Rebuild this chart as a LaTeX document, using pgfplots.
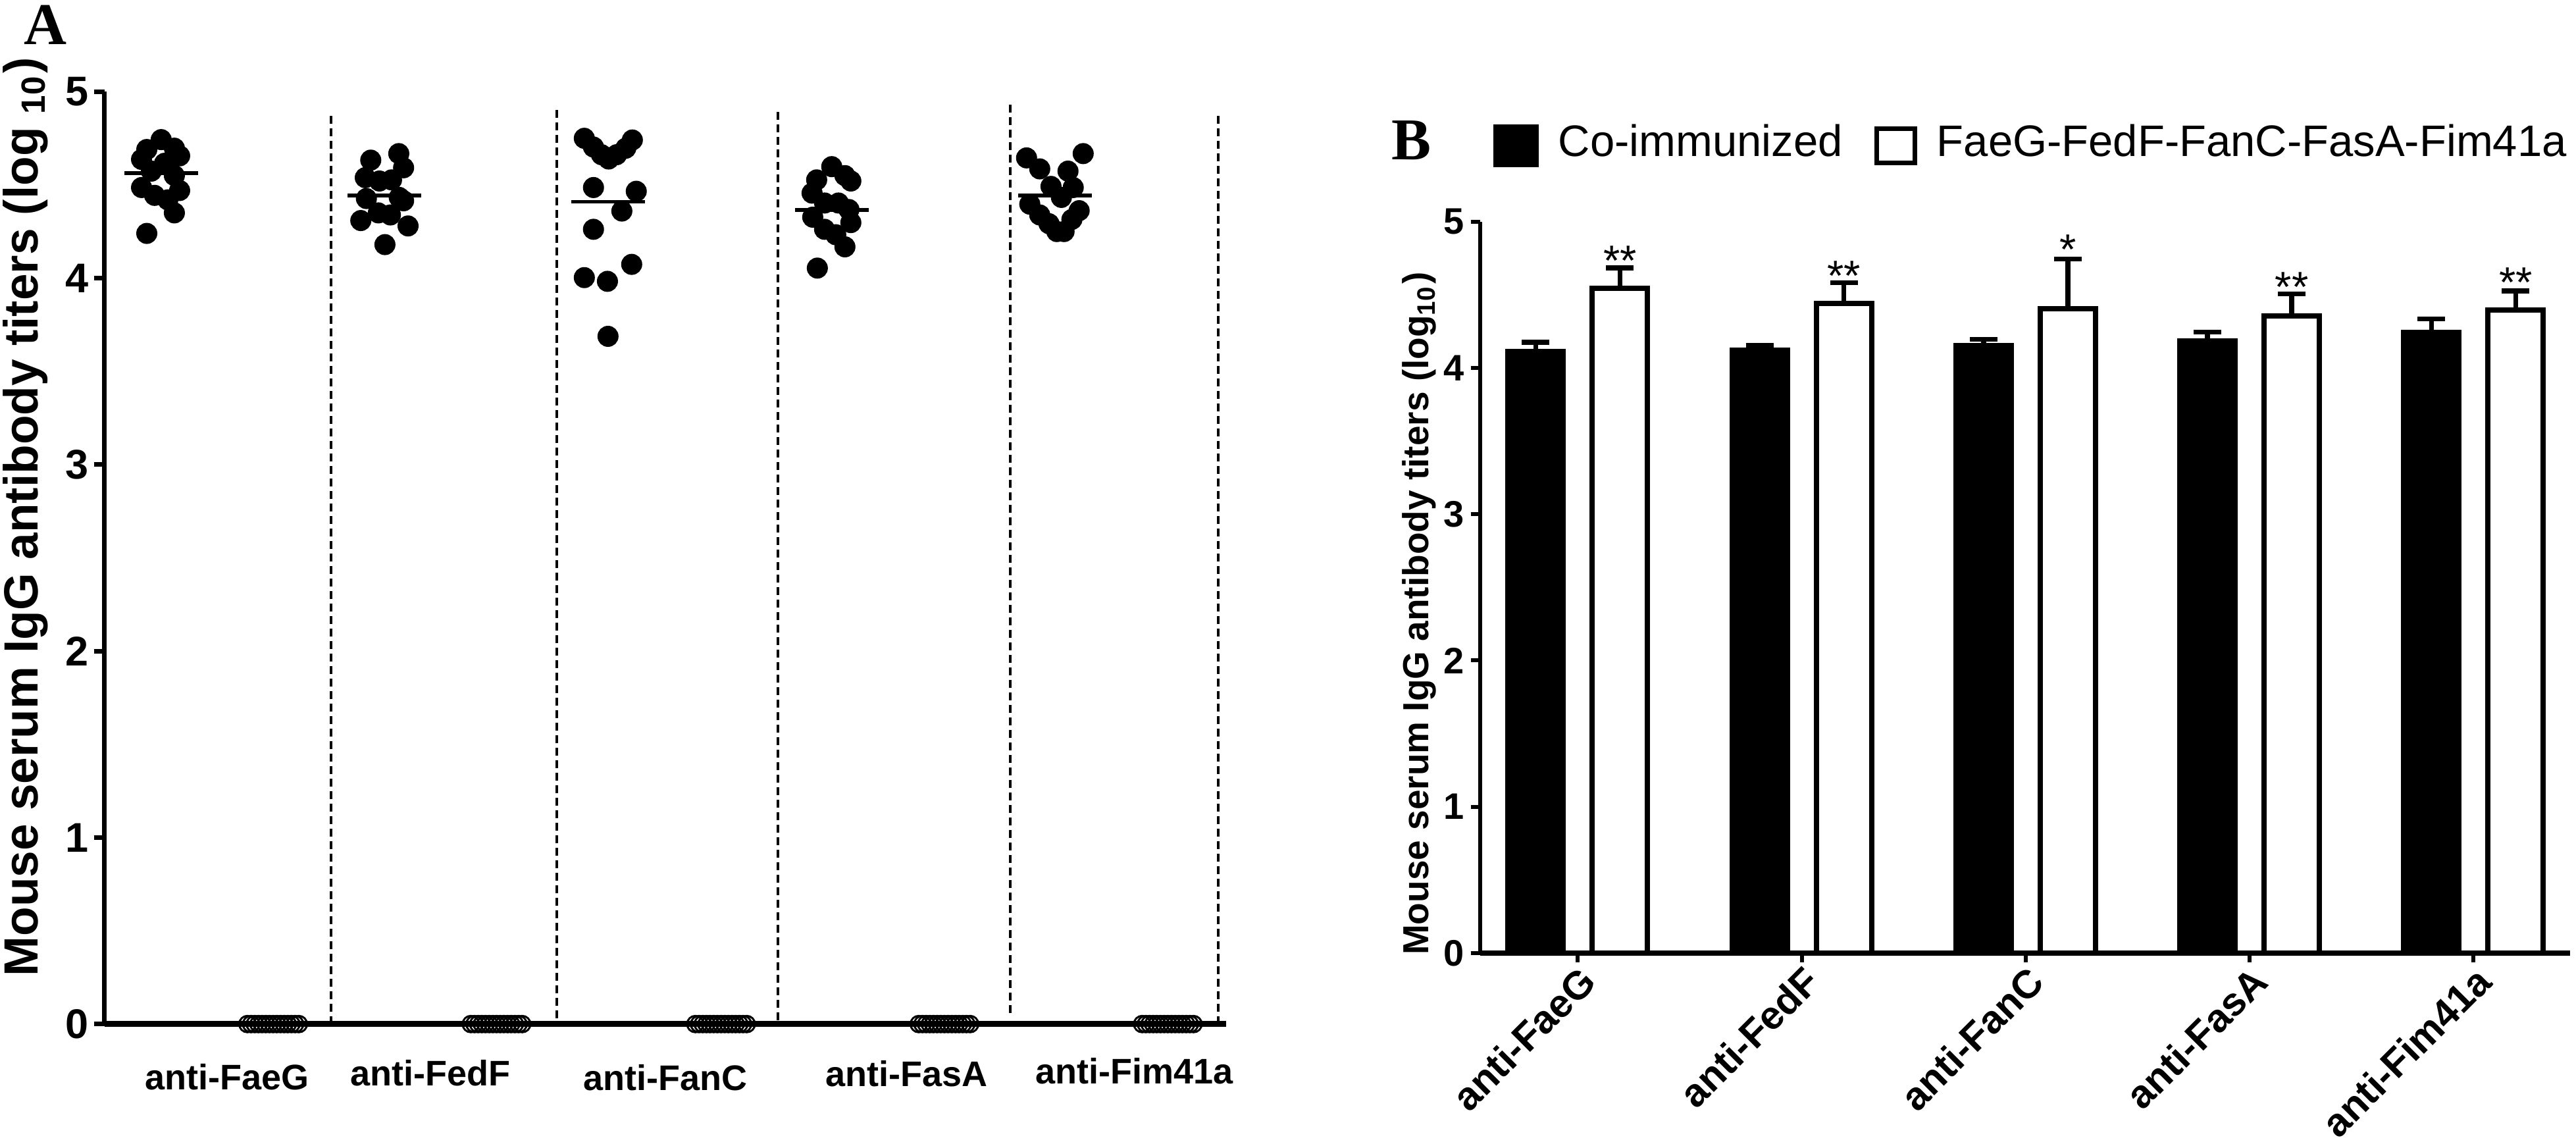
\documentclass[border=0pt]{standalone}
\usepackage{fontspec}
\setmainfont{Liberation Sans}
\newfontfamily\timesfont{Liberation Serif}
\usepackage{pgfplots}
\pgfplotsset{compat=1.18}

\begin{document}
\begin{tikzpicture}
\useasboundingbox (0,0) rectangle (391.4pt,173.8pt);

% ---------------- panel A: scatter per mouse ----------------
\begin{axis}[
  at={(15.87pt,18.22pt)}, anchor=south west,
  scale only axis, width=170.4pt, height=141.65pt,
  xmin=0, xmax=10.04, ymin=0, ymax=5,
  axis x line*=bottom, axis y line*=left,
  x axis line style={line width=0.9pt},
  y axis line style={line width=0.7pt},
  xtick=\empty, ytick={0,...,5},
  tick align=outside, major tick length=1.6pt,
  every tick/.style={black, line width=0.7pt},
  yticklabel style={font=\fontsize{6.3}{7}\selectfont\bfseries, inner sep=0pt, xshift=-0.6pt},
  /pgf/number format/assume math mode=true,
  clip=false,
]
% separators
\addplot[black, line width=0.45pt, dash pattern=on 1.2pt off 0.7pt] coordinates {(2.03,0) (2.03,4.87)};
\addplot[black, line width=0.45pt, dash pattern=on 1.2pt off 0.7pt] coordinates {(4.05,0.03) (4.05,4.91)};
\addplot[black, line width=0.45pt, dash pattern=on 1.2pt off 0.7pt] coordinates {(6.03,0.02) (6.03,4.90)};
\addplot[black, line width=0.45pt, dash pattern=on 1.2pt off 0.7pt] coordinates {(8.11,0.06) (8.11,4.93)};
\addplot[black, line width=0.45pt, dash pattern=on 1.2pt off 0.7pt] coordinates {(9.97,0) (9.97,4.89)};

% immunized mice
\addplot[only marks, mark=*, mark size=1.4pt, black] coordinates {
  (0.508,4.743) (0.379,4.690) (0.626,4.697) (0.673,4.656) (0.332,4.637)
  (0.538,4.616) (0.420,4.574) (0.626,4.550) (0.332,4.486) (0.449,4.444)
  (0.567,4.420) (0.673,4.470) (0.626,4.350) (0.379,4.240)
  (2.384,4.633) (2.635,4.668) (2.678,4.592) (2.335,4.539) (2.462,4.521)
  (2.570,4.527) (2.345,4.427) (2.639,4.433) (2.678,4.415) (2.452,4.350)
  (2.560,4.339) (2.295,4.309) (2.718,4.280) (2.511,4.180)
  (4.296,4.750) (4.378,4.703) (4.450,4.662) (4.514,4.639) (4.585,4.662)
  (4.667,4.697) (4.726,4.741) (4.378,4.486) (4.761,4.466) (4.632,4.360)
  (4.378,4.262) (4.720,4.074) (4.296,4.003) (4.503,3.983) (4.508,3.688)
  (6.511,4.598) (6.376,4.527) (6.629,4.550) (6.682,4.521) (6.335,4.456)
  (6.447,4.403) (6.571,4.403) (6.665,4.368) (6.341,4.327) (6.682,4.298)
  (6.447,4.262) (6.547,4.233) (6.629,4.168) (6.382,4.054)
  (8.255,4.645) (8.762,4.668) (8.373,4.586) (8.626,4.574) (8.474,4.492)
  (8.673,4.486) (8.567,4.433) (8.284,4.397) (8.726,4.362) (8.373,4.339)
  (8.456,4.292) (8.661,4.315) (8.526,4.250) (8.591,4.250)
};
% means
\addplot[black, line width=0.55pt] coordinates {(0.178,4.564) (0.838,4.564)};
\addplot[black, line width=0.55pt] coordinates {(2.175,4.444) (2.835,4.444)};
\addplot[black, line width=0.55pt] coordinates {(4.178,4.409) (4.838,4.409)};
\addplot[black, line width=0.55pt] coordinates {(6.180,4.366) (6.840,4.366)};
\addplot[black, line width=0.55pt] coordinates {(8.180,4.444) (8.840,4.444)};

% controls (all zero)
\addplot[only marks, mark=o, mark size=1.25pt, line width=0.3pt, black] coordinates {
  (1.280,0) (1.313,0) (1.346,0) (1.379,0) (1.411,0) (1.444,0) (1.477,0) (1.510,0)
  (1.543,0) (1.576,0) (1.609,0) (1.641,0) (1.674,0) (1.707,0) (1.740,0)
  (3.280,0) (3.313,0) (3.346,0) (3.379,0) (3.411,0) (3.444,0) (3.477,0) (3.510,0)
  (3.543,0) (3.576,0) (3.609,0) (3.641,0) (3.674,0) (3.707,0) (3.740,0)
  (5.290,0) (5.323,0) (5.356,0) (5.389,0) (5.421,0) (5.454,0) (5.487,0) (5.520,0)
  (5.553,0) (5.586,0) (5.619,0) (5.651,0) (5.684,0) (5.717,0) (5.750,0)
  (7.290,0) (7.323,0) (7.356,0) (7.389,0) (7.421,0) (7.454,0) (7.487,0) (7.520,0)
  (7.553,0) (7.586,0) (7.619,0) (7.651,0) (7.684,0) (7.717,0) (7.750,0)
  (9.290,0) (9.323,0) (9.356,0) (9.389,0) (9.421,0) (9.454,0) (9.487,0) (9.520,0)
  (9.553,0) (9.586,0) (9.619,0) (9.651,0) (9.684,0) (9.717,0) (9.750,0)
};

\begin{scope}[font=\fontsize{5.4}{6}\selectfont\bfseries]
\node at (axis cs:1.10,-0.283) {anti-FaeG};
\node at (axis cs:2.92,-0.261) {anti-FedF};
\node at (axis cs:5.02,-0.286) {anti-FanC};
\node at (axis cs:7.18,-0.265) {anti-FasA};
\node at (axis cs:9.22,-0.251) {anti-Fim41a};
\end{scope}
\end{axis}

% ---------------- panel B: means with SD ----------------
\begin{axis}[
  at={(224.87pt,29pt)}, anchor=south west,
  scale only axis, width=165.6pt, height=111.13pt,
  xmin=0.563, xmax=5.43, ymin=0, ymax=5,
  axis x line*=bottom, axis y line*=left,
  x axis line style={line width=0.8pt},
  y axis line style={line width=0.6pt},
  xtick={1,...,5},
  xticklabels={anti-FaeG,anti-FedF,anti-FanC,anti-FasA,anti-Fim41a},
  ytick={0,...,5},
  tick align=outside, major tick length=1.4pt,
  every tick/.style={black, line width=0.6pt},
  xticklabel style={rotate=45, anchor=north east, inner sep=0pt, font=\fontsize{6}{7}\selectfont\bfseries},
  yticklabel style={font=\fontsize{5.6}{6.5}\selectfont\bfseries, inner sep=0pt, xshift=-0.8pt},
  /pgf/number format/assume math mode=true,
  legend style={at={(axis description cs:0.011,1.104)}, anchor=west, draw=none, fill=none,
    legend columns=2, inner sep=0pt, nodes={inner sep=0pt},
    font=\fontsize{6.7}{8}\selectfont,
    /tikz/every odd column/.style={column sep=3pt},
    /tikz/every even column/.style={column sep=4.8pt}},
  clip=false,
]
\addplot[ybar, bar width=0.247, bar shift=0pt, fill=black, draw=black, line width=0.8pt,
  legend image code/.code={\draw[fill=black, line width=0.7pt] (0pt,-2.9pt) rectangle (6.2pt,2.9pt);},
  error bars/.cd, y dir=plus, y explicit,
  error bar style={line width=0.75pt},
  error mark options={rotate=90, line width=0.75pt, mark size=2.1pt}]
  coordinates {(0.812,4.112) +- (0,0.063) (1.812,4.123) +- (0,0.033)
    (2.812,4.152) +- (0,0.043) (3.812,4.186) +- (0,0.060) (4.812,4.244) +- (0,0.092)};
\addlegendentry{Co-immunized}
\addplot[ybar, bar width=0.247, bar shift=0pt, fill=white, draw=black, line width=0.8pt,
  legend image code/.code={\draw[fill=white, line width=0.7pt] (0pt,-2.6pt) rectangle (5.8pt,2.6pt);},
  error bars/.cd, y dir=plus, y explicit,
  error bar style={line width=0.75pt},
  error mark options={rotate=90, line width=0.75pt, mark size=2.1pt}]
  coordinates {(1.188,4.546) +- (0,0.138) (2.188,4.442) +- (0,0.141)
    (3.188,4.405) +- (0,0.339) (4.188,4.354) +- (0,0.151) (5.188,4.396) +- (0,0.129)};
\addlegendentry{FaeG-FedF-FanC-FasA-Fim41a}

\begin{scope}[font=\fontsize{6.5}{7}\selectfont]
\node[anchor=base] at (axis cs:1.188,4.63) {**};
\node[anchor=base] at (axis cs:2.188,4.53) {**};
\node[anchor=base] at (axis cs:3.188,4.71) {*};
\node[anchor=base] at (axis cs:4.188,4.454) {**};
\node[anchor=base] at (axis cs:5.188,4.484) {**};
\end{scope}
\end{axis}

% panel letters and axis titles
\node[font={\fontsize{9}{10}\selectfont\timesfont\bfseries}] at (6.9pt,170pt) {A};
\node[font={\fontsize{9}{10}\selectfont\timesfont\bfseries}] at (214.5pt,152.5pt) {B};
\node[rotate=90, anchor=base, font=\fontsize{7.3}{8}\selectfont\bfseries] at (5.7pt,95.3pt)
  {Mouse serum IgG antibody titers (log \textsubscript{10})};
\node[rotate=90, anchor=base, font=\fontsize{5.5}{6}\selectfont\bfseries] at (217pt,80.6pt)
  {Mouse serum IgG antibody titers (log\textsubscript{10})};
\end{tikzpicture}
\end{document}
